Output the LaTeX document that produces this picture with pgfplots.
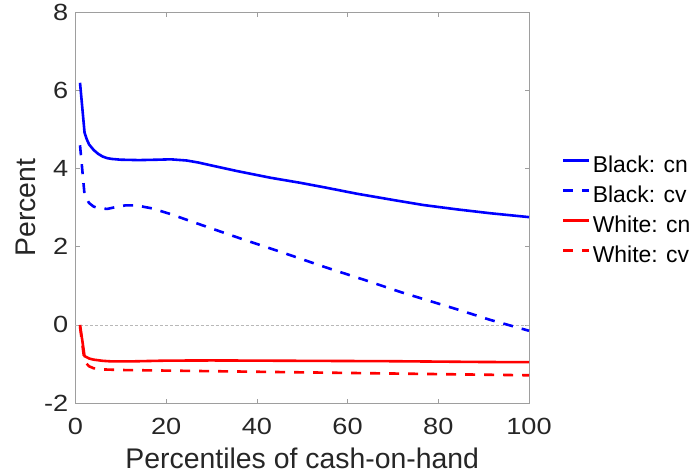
\documentclass[border=0pt]{standalone}
\usepackage{pgfplots}
\pgfplotsset{compat=1.18}
\usepackage{fontspec}
\setmainfont{Liberation Sans}
\newfontfamily\tickfont{Liberation Sans}[FakeStretch=1.16]
\definecolor{axisgray}{rgb}{0.62,0.62,0.62}
\definecolor{tickgray}{rgb}{0.15,0.15,0.15}
\definecolor{zerogray}{rgb}{0.72,0.72,0.72}
\begin{document}
\begin{tikzpicture}
\path[use as bounding box] (-75.5bp,-73bp) rectangle (615.5bp,403bp);
\begin{axis}[
  at={(0,0)}, anchor=south west,
  width=453.5bp, height=390.5bp, scale only axis,
  xmin=0, xmax=100, ymin=-2, ymax=8,
  xtick={0,20,40,60,80,100}, xticklabels={0,20,40,60,80,100},
  ytick={-2,0,2,4,6,8}, yticklabels={-2,0,2,4,6,8},
  /pgf/number format/assume math mode=true,
  tick align=inside, major tick length=4.5bp,
  axis line style={draw=axisgray, line width=0.6bp},
  every tick/.style={draw=axisgray, line width=0.6bp},
  ticklabel style={font=\tickfont\fontsize{23.5}{23.5}\selectfont, text=tickgray},
  xticklabel style={inner sep=0pt, anchor=north, yshift=-14.5bp},
  yticklabel style={inner sep=0pt, anchor=east, xshift=-7bp},
  xlabel={Percentiles of cash-on-hand},
  ylabel={Percent},
  label style={font=\fontsize{28.5}{28.5}\selectfont, text=tickgray, inner sep=0pt},
  xlabel style={at={(axis description cs:0.5,0)}, anchor=base, yshift=-65bp},
  ylabel style={at={(axis description cs:-0.0893,0.5)}, anchor=base, rotate=0},
  legend style={at={(1.0721,0.633)}, anchor=north west, draw=none, fill=none,
    inner sep=0pt, outer sep=0pt, row sep=11.9bp,
    font=\fontsize{23}{23}\selectfont,
    nodes={inner sep=0pt},
    /tikz/every odd column/.append style={column sep=3bp},
    /tikz/every even column/.append style={column sep=0pt}},
  legend cell align=left,
  legend image code/.code={\draw[#1] (0bp,4.5bp) -- (25.5bp,4.5bp);},
  clip=false,
]
\addplot[draw=zerogray, line width=0.6bp, dash pattern=on 3bp off 2bp, forget plot] coordinates {(0,0) (100,0)};
\addplot[blue, line width=2.6bp] coordinates {
(1,6.2) (2,4.92) (2.5,4.75) (3,4.62) (4,4.48) (5,4.38) (6,4.31) (7,4.27) (8,4.25)
(10,4.23) (14,4.22) (18,4.23) (21,4.24) (24.5,4.21) (27,4.16) (29.7,4.09)
(35.6,3.94) (42.9,3.77) (49.5,3.64) (55,3.52) (62,3.36) (70,3.2) (76.7,3.07)
(84,2.96) (91.4,2.86) (100,2.76)};
\addlegendentry{Black: cn}
\addplot[blue, line width=2.6bp, dash pattern=on 10bp off 9bp] coordinates {
(1,4.6) (2,3.33) (3,3.12) (4,3.03) (5,2.99) (7,2.97) (9,3.02) (11,3.06) (13.5,3.06)
(17,2.98) (20.9,2.84) (28,2.55) (36.7,2.20) (45,1.88) (55,1.48) (63.5,1.16)
(72,0.83) (84.1,0.40) (91.4,0.13) (100,-0.15)};
\addlegendentry{Black: cv}
\addplot[red, line width=2.6bp] coordinates {
(1,0.0) (2,-0.8) (3,-0.86) (4,-0.89) (6,-0.92) (8,-0.935) (12,-0.935) (20,-0.915)
(30,-0.91) (40,-0.915) (50,-0.92) (60,-0.925) (70,-0.93) (80,-0.94) (90,-0.95) (100,-0.955)};
\addlegendentry{White: cn}
\addplot[red, line width=2.6bp, dash pattern=on 10bp off 9bp] coordinates {
(1,-0.05) (2,-0.94) (3,-1.06) (4,-1.11) (6,-1.14) (10,-1.155) (20,-1.17) (30,-1.185)
(40,-1.2) (50,-1.215) (60,-1.23) (70,-1.245) (80,-1.26) (90,-1.275) (100,-1.29)};
\addlegendentry{White: cv}
\end{axis}
\end{tikzpicture}
\end{document}
